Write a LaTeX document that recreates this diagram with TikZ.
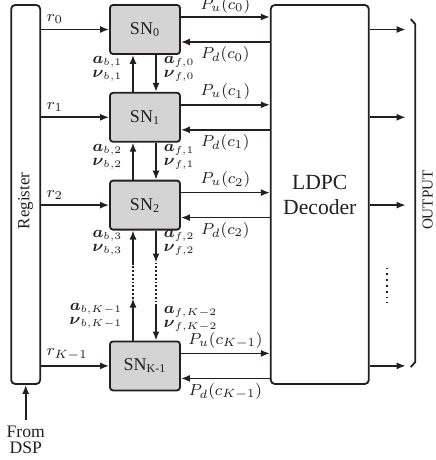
\documentclass[tikz,border=0pt]{standalone}
\usepackage{amsmath,amssymb}
\usepackage[no-math]{fontspec}
\setmainfont{Liberation Serif}
\usepackage{graphicx}
\usetikzlibrary{arrows.meta,positioning}
\definecolor{ink}{HTML}{231F20}
\definecolor{snfill}{HTML}{D4D4D4}

\begin{document}
\begin{tikzpicture}[
  color=ink,
  node distance=18.5pt and 44.5pt,
  sn/.style={draw=ink,fill=snfill,line width=0.9pt,rounded corners=1.5pt,minimum width=35pt,minimum height=24.5pt,font=\fontsize{9}{10}\selectfont},
  tall/.style={draw=ink,line width=0.9pt,rounded corners=2pt,minimum height=189.5pt,align=center},
  arr/.style={-{Latex[length=4.5pt,width=3.5pt]},line width=0.8pt,draw=ink},
  dotline/.style={densely dotted,line width=0.9pt,draw=ink},
  lbl/.style={font=\fontsize{8}{9}\selectfont,inner sep=2pt},
  vec/.style={font=\fontsize{7.8}{7}\selectfont,inner sep=1pt,yshift=2pt}
]
  \useasboundingbox (0,0) rectangle (217.5pt,-230pt);
  \node[sn] (sn0) at (72.5pt,-14.75pt) {SN\textsubscript{0}};
  \node[sn,below=of sn0] (sn1) {SN\textsubscript{1}};
  \node[sn,below=of sn1] (sn2) {SN\textsubscript{2}};
  \node[sn,below=55pt of sn2] (snk) {SN\textsubscript{K-1}};
  \node[tall,minimum width=14.5pt,left=34pt of sn0.north west,anchor=north east,font=\fontsize{8.5}{10}\selectfont] (reg) {\rotatebox{90}{\hspace*{-6.5pt}Register}};
  \node[tall,minimum width=49pt,right=of sn0.north east,anchor=north west,font=\fontsize{10.8}{12.5}\selectfont] (dec) {LDPC\\Decoder};
  \node[below=17.5pt of reg,align=center,inner sep=3pt,font=\fontsize{8.8}{7.8}\selectfont] (dsp) {From\\DSP};
  \node[rotate=90,inner sep=0pt,font=\fontsize{7.6}{9}\selectfont] (out) at ([xshift=29pt,yshift=-2.75pt]dec.east) {OUTPUT};
  \draw[arr] (dsp) -- (reg);

  \draw[arr] (reg.east |- sn0) -- node[lbl,above right,pos=0,inner sep=2.5pt]{$r_0$} (sn0);
  \draw[arr] (reg.east |- sn1) -- node[lbl,above right,pos=0,inner sep=2.5pt]{$r_1$} (sn1);
  \draw[arr] (reg.east |- sn2) -- node[lbl,above right,pos=0,inner sep=2.5pt]{$r_2$} (sn2);
  \draw[arr] (reg.east |- snk) -- node[lbl,above right,pos=0,inner sep=2.5pt]{$r_{K-1}$} (snk);

  \coordinate (u0) at ([yshift=6.25pt]sn0.east);
  \coordinate (d0) at ([yshift=-6.25pt]sn0.east);
  \coordinate (u1) at ([yshift=6.25pt]sn1.east);
  \coordinate (d1) at ([yshift=-6.25pt]sn1.east);
  \coordinate (u2) at ([yshift=6.25pt]sn2.east);
  \coordinate (d2) at ([yshift=-6.25pt]sn2.east);
  \coordinate (uk) at ([yshift=6.25pt]snk.east);
  \coordinate (dk) at ([yshift=-6.25pt]snk.east);
  \draw[arr] (u0) -- node[lbl,above,inner sep=1.5pt]{$P_u(c_0)$} (u0 -| dec.west);
  \draw[arr] (d0 -| dec.west) -- node[lbl,below]{$P_d(c_0)$} (d0);
  \draw[arr] (u1) -- node[lbl,above]{$P_u(c_1)$} (u1 -| dec.west);
  \draw[arr] (d1 -| dec.west) -- node[lbl,below]{$P_d(c_1)$} (d1);
  \draw[arr] (u2) -- node[lbl,above]{$P_u(c_2)$} (u2 -| dec.west);
  \draw[arr] (d2 -| dec.west) -- node[lbl,below]{$P_d(c_2)$} (d2);
  \draw[arr] (uk) -- node[lbl,above]{$P_u(c_{K-1})$} (uk -| dec.west);
  \draw[arr] (dk -| dec.west) -- node[lbl,below]{$P_d(c_{K-1})$} (dk);

  \draw[arr] ([xshift=-6pt]sn1.north) -- node[vec,left=4pt,align=right]{$\boldsymbol{a}_{b,1}$\\$\boldsymbol{\nu}_{b,1}$} ([xshift=-6pt]sn0.south);
  \draw[arr] ([xshift=5.5pt]sn0.south) -- node[vec,right=2.5pt,align=left]{$\boldsymbol{a}_{f,0}$\\$\boldsymbol{\nu}_{f,0}$} ([xshift=5.5pt]sn1.north);
  \draw[arr] ([xshift=-6pt]sn2.north) -- node[vec,left=4pt,align=right]{$\boldsymbol{a}_{b,2}$\\$\boldsymbol{\nu}_{b,2}$} ([xshift=-6pt]sn1.south);
  \draw[arr] ([xshift=5.5pt]sn1.south) -- node[vec,right=2.5pt,align=left]{$\boldsymbol{a}_{f,1}$\\$\boldsymbol{\nu}_{f,1}$} ([xshift=5.5pt]sn2.north);

  \coordinate (b2) at ([xshift=-6pt,yshift=-16.5pt]sn2.south);
  \coordinate (b1) at ([xshift=-6pt,yshift=21pt]snk.north);
  \coordinate (f1) at ([xshift=5.5pt,yshift=-16pt]sn2.south);
  \coordinate (f2) at ([xshift=5.5pt,yshift=17.5pt]snk.north);
  \draw[arr] (b2) -- node[vec,left=4pt,align=right]{$\boldsymbol{a}_{b,3}$\\$\boldsymbol{\nu}_{b,3}$} ([xshift=-6pt]sn2.south);
  \draw[dotline] (b1) -- (b2);
  \draw[arr] ([xshift=-6pt]snk.north) -- node[vec,left=4pt,align=right]{$\boldsymbol{a}_{b,K-1}$\\$\boldsymbol{\nu}_{b,K-1}$} (b1);
  \draw[arr] ([xshift=5.5pt]sn2.south) -- node[vec,right=2.5pt,align=left]{$\boldsymbol{a}_{f,2}$\\$\boldsymbol{\nu}_{f,2}$} (f1);
  \draw[dotline] (f1) -- (f2);
  \draw[arr] (f2) -- node[vec,right=2.5pt,align=left]{$\boldsymbol{a}_{f,K-2}$\\$\boldsymbol{\nu}_{f,K-2}$} ([xshift=5.5pt]snk.north);

  \coordinate (outx) at ([xshift=18pt]dec.east);
  \coordinate (dotx) at ([xshift=8.5pt]dec.east);
  \draw[arr] (dec.east |- sn0) -- (outx |- sn0);
  \draw[arr] (dec.east |- sn1) -- (outx |- sn1);
  \draw[arr] (dec.east |- sn2) -- (outx |- sn2);
  \draw[arr] (dec.east |- snk) -- (outx |- snk);
  \draw[dotted,line width=0.9pt] ([yshift=-2pt]dotx |- b2) -- ([yshift=-2pt]dotx |- b1);
  \draw[line width=0.9pt] ([xshift=20.5pt,yshift=-7.5pt]dec.north east) -- ++(2.25pt,-2.5pt) -- ++(0,-169pt) -- ++(-2.25pt,-2.5pt);
\end{tikzpicture}
\end{document}
